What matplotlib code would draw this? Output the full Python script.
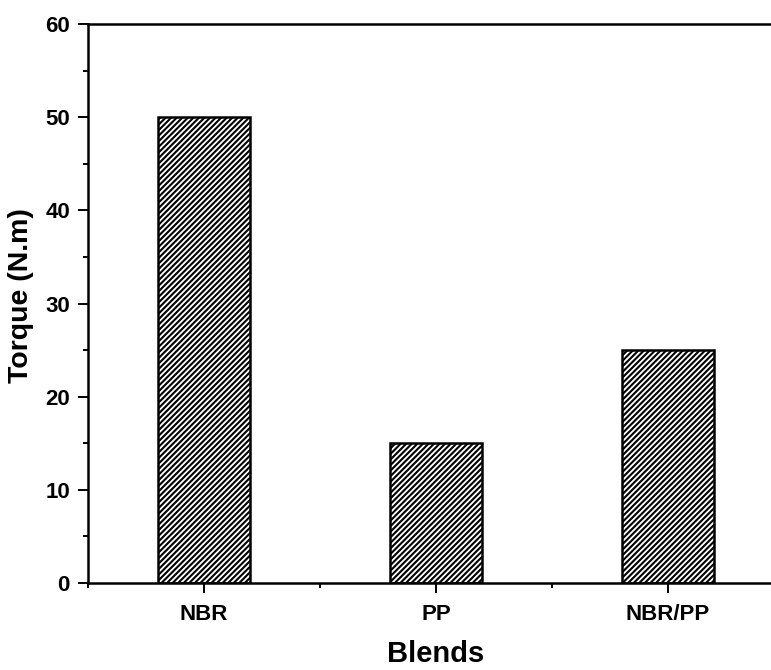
import matplotlib
matplotlib.use('Agg')
import matplotlib.pyplot as plt
from matplotlib.ticker import MultipleLocator, FixedLocator

# ----------------------------------------------------------------------------------------------------------------------
# DATA
# ----------------------------------------------------------------------------------------------------------------------

blends = ['NBR', 'PP', 'NBR/PP']
torque = [50, 15, 25]
yticks = [0, 10, 20, 30, 40, 50, 60]

# ----------------------------------------------------------------------------------------------------------------------
# PLOT
# ----------------------------------------------------------------------------------------------------------------------

plt.rcParams['font.family'] = ['Liberation Sans', 'DejaVu Sans']
plt.rcParams['font.weight'] = 'bold'
plt.rcParams['hatch.linewidth'] = 1.5

f = plt.figure(figsize=(7.71, 6.70), dpi=100)
ax = f.add_axes([88 / 771, 87 / 670, (784 - 88) / 771, (583 - 24) / 670])

pos = list(range(1, len(blends) + 1))
ax.bar(pos, torque, width=0.4, color='white', edgecolor='black', hatch='//////', linewidth=1.8, zorder=2)

ax.set_xlim([0.5, 3.5])
ax.set_ylim([0, 60])
ax.set_xticks(pos)
ax.set_xticklabels(blends, fontsize=16, fontweight='bold')
ax.xaxis.set_minor_locator(FixedLocator([0.5, 1.5, 2.5, 3.5]))
ax.set_yticks(yticks)
ax.set_yticklabels(yticks, fontsize=16, fontweight='bold')
ax.yaxis.set_minor_locator(MultipleLocator(5))

ax.tick_params(which='major', direction='out', length=7, width=1.4, pad=6)
ax.tick_params(axis='x', which='major', pad=8)
ax.tick_params(which='minor', direction='out', length=3.5, width=1.4)
for s in ax.spines.values():
    s.set_linewidth(1.8)

ax.set_xlabel('Blends', fontsize=21, fontweight='bold', labelpad=11)
ax.set_ylabel('Torque (N.m)', fontsize=20.5, fontweight='bold')
ax.yaxis.set_label_coords(-0.077, 0.514)

plt.savefig('out.png', dpi=100)
